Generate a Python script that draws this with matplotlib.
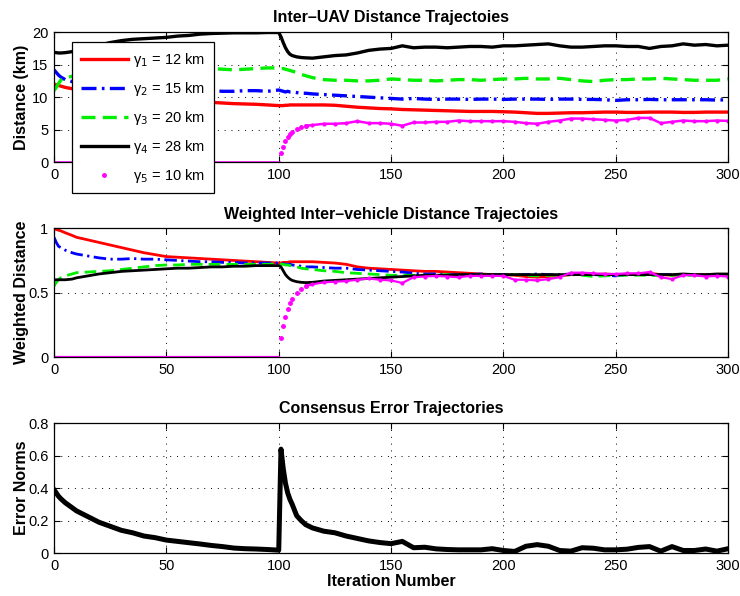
import numpy as np
import matplotlib
matplotlib.use("Agg")
import matplotlib.pyplot as plt
from matplotlib.lines import Line2D

plt.rcParams['font.family'] = ['Liberation Sans', 'DejaVu Sans']

iters = ([0, 1, 2, 3, 5, 8] + list(range(10, 101, 5))
         + [101, 102, 103, 104, 105, 106, 108, 110, 112, 115] + list(range(120, 301, 5)))

labels = ["γ$_1$ = 12 km", "γ$_2$ = 15 km", "γ$_3$ = 20 km", "γ$_4$ = 28 km", "γ$_5$ = 10 km"]

# --- inter-UAV distance (km)
dist1 = [12.0, 11.9, 11.8, 11.7, 11.5, 11.3,
         11.1, 10.8, 10.5, 10.3, 10.1, 9.9, 9.8, 9.6, 9.5, 9.4, 9.3, 9.25, 9.2, 9.1, 9.0, 8.95, 8.9, 8.8, 8.7,
         8.7, 8.7, 8.75, 8.75, 8.8, 8.8, 8.8, 8.8, 8.8, 8.8,
         8.8, 8.75, 8.6, 8.45, 8.35, 8.25, 8.2, 8.1, 8.05, 8.0, 7.95, 7.9, 7.85, 7.8, 7.8, 7.8, 7.75, 7.7, 7.6,
         7.5, 7.5, 7.55, 7.6, 7.6, 7.65, 7.7, 7.7, 7.65, 7.65, 7.7, 7.7, 7.7, 7.65, 7.65, 7.7, 7.7, 7.7]
dist2 = [14.2, 13.8, 13.4, 13.1, 12.7, 12.4,
         12.2, 12.0, 11.8, 11.7, 11.5, 11.4, 11.3, 11.2, 11.1, 11.1, 11.0, 11.0, 11.0, 10.9, 10.9, 11.0, 11.0, 10.9, 11.1,
         11.0, 10.9, 10.8, 10.9, 10.8, 10.8, 10.7, 10.6, 10.6, 10.5,
         10.4, 10.3, 10.2, 10.1, 10.0, 9.9, 9.8, 9.7, 9.8, 9.7, 9.65, 9.7, 9.7, 9.65, 9.7, 9.7, 9.65, 9.7, 9.7,
         9.7, 9.65, 9.7, 9.7, 9.65, 9.65, 9.6, 9.5, 9.6, 9.6, 9.65, 9.6, 9.6, 9.6, 9.6, 9.6, 9.55, 9.6]
dist3 = [11.0, 11.5, 12.1, 12.6, 13.0, 13.2,
         13.3, 13.5, 13.6, 13.8, 13.9, 14.0, 14.1, 14.2, 14.3, 14.3, 14.4, 14.4, 14.4, 14.3, 14.2, 14.3, 14.4, 14.5, 14.5,
         14.4, 14.4, 14.3, 14.2, 14.1, 14.0, 13.8, 13.5, 13.3, 13.0,
         12.7, 12.6, 12.6, 12.5, 12.5, 12.6, 12.8, 12.7, 12.6, 12.6, 12.5, 12.6, 12.7, 12.7, 12.6, 12.7, 12.8, 12.8, 12.9,
         12.8, 12.8, 12.9, 12.7, 12.5, 12.4, 12.6, 12.7, 12.7, 12.8, 12.8, 12.9, 12.8, 12.7, 12.6, 12.6, 12.6, 12.8]
dist4 = [16.9, 16.85, 16.8, 16.8, 16.85, 17.0,
         17.3, 17.7, 18.0, 18.4, 18.7, 18.9, 19.0, 19.1, 19.2, 19.4, 19.5, 19.7, 19.8, 19.85, 19.9, 19.9, 19.9, 19.95, 19.95,
         19.3, 18.4, 17.6, 17.0, 16.6, 16.4, 16.2, 16.1, 16.05, 16.0,
         16.2, 16.4, 16.5, 16.8, 17.2, 17.4, 17.5, 17.9, 17.6, 17.7, 17.7, 17.6, 17.7, 17.8, 17.8, 17.7, 17.9, 17.9, 18.0,
         18.1, 18.2, 17.9, 17.7, 17.7, 17.8, 17.9, 17.9, 17.8, 17.8, 17.5, 17.8, 17.9, 18.2, 18.0, 18.1, 17.9, 18.0]
dist5 = [0.0] * 25 + [
         1.4, 2.4, 3.2, 3.8, 4.4, 4.7, 5.1, 5.4, 5.6, 5.7,
         5.9, 5.9, 6.0, 6.3, 6.0, 6.0, 5.9, 5.6, 6.1, 6.1, 6.2, 6.2, 6.4, 6.3, 6.3, 6.3, 6.3, 6.2, 6.0,
         5.9, 6.2, 6.4, 6.7, 6.7, 6.6, 6.5, 6.4, 6.5, 6.8, 6.8, 6.0, 6.2, 6.4, 6.3, 6.3, 6.4, 6.35]

# --- weighted inter-vehicle distance
wdist1 = [1.0, 0.99, 0.985, 0.98, 0.965, 0.945,
          0.93, 0.91, 0.89, 0.87, 0.85, 0.83, 0.81, 0.795, 0.78, 0.775, 0.77, 0.765, 0.76, 0.755, 0.75, 0.745, 0.74, 0.735, 0.73,
          0.73, 0.735, 0.735, 0.735, 0.74, 0.74, 0.74, 0.74, 0.74, 0.74,
          0.735, 0.73, 0.72, 0.70, 0.69, 0.685, 0.68, 0.675, 0.67, 0.665, 0.665, 0.66, 0.655, 0.65, 0.645, 0.64, 0.64, 0.635, 0.625,
          0.62, 0.625, 0.63, 0.64, 0.64, 0.64, 0.645, 0.64, 0.64, 0.645, 0.65, 0.64, 0.635, 0.64, 0.64, 0.64, 0.64, 0.64]
wdist2 = [0.93, 0.89, 0.86, 0.85, 0.83, 0.81,
          0.80, 0.785, 0.77, 0.76, 0.76, 0.765, 0.76, 0.76, 0.755, 0.75, 0.745, 0.74, 0.74, 0.735, 0.735, 0.73, 0.73, 0.73, 0.73,
          0.73, 0.725, 0.72, 0.72, 0.72, 0.715, 0.71, 0.705, 0.70, 0.70,
          0.695, 0.69, 0.69, 0.68, 0.675, 0.67, 0.665, 0.66, 0.65, 0.645, 0.645, 0.64, 0.64, 0.64, 0.645, 0.64, 0.64, 0.64, 0.64,
          0.645, 0.64, 0.64, 0.645, 0.64, 0.64, 0.635, 0.63, 0.64, 0.64, 0.64, 0.64, 0.64, 0.64, 0.64, 0.64, 0.64, 0.64]
wdist3 = [0.55, 0.58, 0.60, 0.615, 0.63, 0.645,
          0.655, 0.66, 0.665, 0.67, 0.68, 0.69, 0.70, 0.71, 0.715, 0.715, 0.72, 0.72, 0.72, 0.72, 0.72, 0.72, 0.72, 0.72, 0.725,
          0.72, 0.72, 0.715, 0.715, 0.71, 0.705, 0.70, 0.69, 0.685, 0.68,
          0.67, 0.665, 0.655, 0.65, 0.645, 0.64, 0.635, 0.635, 0.635, 0.635, 0.635, 0.64, 0.635, 0.635, 0.64, 0.635, 0.635, 0.64, 0.635,
          0.63, 0.635, 0.635, 0.64, 0.635, 0.625, 0.63, 0.635, 0.635, 0.635, 0.635, 0.63, 0.635, 0.635, 0.635, 0.635, 0.635, 0.635]
wdist4 = [0.60, 0.60, 0.60, 0.60, 0.60, 0.605,
          0.615, 0.63, 0.645, 0.655, 0.665, 0.67, 0.675, 0.68, 0.685, 0.69, 0.69, 0.695, 0.70, 0.70, 0.705, 0.705, 0.71, 0.71, 0.71,
          0.70, 0.67, 0.64, 0.62, 0.605, 0.595, 0.585, 0.58, 0.578, 0.58,
          0.59, 0.595, 0.60, 0.605, 0.61, 0.615, 0.62, 0.625, 0.63, 0.635, 0.635, 0.635, 0.64, 0.64, 0.64, 0.64, 0.64, 0.64, 0.64,
          0.64, 0.64, 0.64, 0.64, 0.64, 0.64, 0.64, 0.64, 0.64, 0.64, 0.64, 0.64, 0.64, 0.645, 0.64, 0.64, 0.645, 0.645]
wdist5 = [0.0] * 25 + [
          0.15, 0.24, 0.31, 0.37, 0.42, 0.45, 0.50, 0.53, 0.55, 0.565,
          0.58, 0.585, 0.59, 0.60, 0.61, 0.60, 0.595, 0.575, 0.62, 0.625, 0.63, 0.625, 0.62, 0.63, 0.63, 0.63, 0.63, 0.60, 0.60,
          0.595, 0.605, 0.62, 0.655, 0.655, 0.65, 0.645, 0.645, 0.65, 0.65, 0.66, 0.62, 0.605, 0.635, 0.635, 0.625, 0.63, 0.625]

# --- consensus error norm
err = [0.39, 0.37, 0.35, 0.335, 0.31, 0.28,
       0.26, 0.225, 0.19, 0.165, 0.14, 0.125, 0.105, 0.095, 0.08, 0.072, 0.064, 0.056, 0.047, 0.04, 0.031, 0.027, 0.025, 0.022, 0.018,
       0.64, 0.52, 0.43, 0.37, 0.33, 0.30, 0.23, 0.20, 0.175, 0.155,
       0.135, 0.125, 0.105, 0.09, 0.075, 0.065, 0.058, 0.072, 0.033, 0.036, 0.026, 0.022, 0.02, 0.02, 0.02, 0.027, 0.016, 0.01, 0.042,
       0.052, 0.042, 0.016, 0.012, 0.033, 0.03, 0.02, 0.02, 0.024, 0.035, 0.04, 0.012, 0.04, 0.016, 0.016, 0.025, 0.012, 0.027]

x = np.array(iters)
xticks = [0, 50, 100, 150, 200, 250, 300]


def style_axes(ax, yticks, ylim):
    ax.set_xlim(0, 300)
    ax.set_ylim(*ylim)
    ax.set_xticks(xticks)
    ax.set_yticks(yticks)
    ax.tick_params(direction='in', top=True, right=True, length=4, width=0.8,
                   labelsize=10.5, pad=4)
    ax.grid(True, color='k', linestyle=(0, (1, 6)), linewidth=0.7)
    for s in ax.spines.values():
        s.set_linewidth(0.9)


def pink_series(ax, y, lw):
    y = np.array(y)
    flat = x <= 100
    jump = (x > 100) & (x <= 112)
    tail = x >= 112
    ax.plot(x[flat], y[flat], color='#ff00ff', lw=lw)
    ax.plot(x[jump], y[jump], ls='none', marker='.', ms=5, color='#ff00ff')
    ax.plot(x[tail], y[tail], color='#ff00ff', lw=lw, marker='.', ms=4)


fig = plt.figure(figsize=(7.4, 5.96), dpi=100)
ax1 = fig.add_axes([0.073, 0.728, 0.911, 0.218])
ax2 = fig.add_axes([0.073, 0.401, 0.911, 0.216])
ax3 = fig.add_axes([0.073, 0.072, 0.911, 0.218])

# top panel
lw = 2.4
ax1.plot(x, dist1, color='#ff0000', lw=lw)
ax1.plot(x, dist2, color='#0000ff', lw=lw, dashes=(4.5, 1.6, 0.8, 1.6))
ax1.plot(x, dist3, color='#00ee00', lw=lw, dashes=(4.2, 2.2))
ax1.plot(x, dist4, color='k', lw=lw)
pink_series(ax1, dist5, 1.8)
style_axes(ax1, [0, 5, 10, 15, 20], (0, 20))
# the "50" label sits under the legend box in the original
ax1.set_xticklabels(['0', '', '100', '150', '200', '250', '300'])
ax1.set_title('Inter–UAV Distance Trajectoies', fontsize=11.5, fontweight='bold', pad=7)
ax1.set_ylabel('Distance (km)', fontsize=11.5, fontweight='bold')
ax1.yaxis.set_label_coords(-0.037, 0.5)

handles = [
    Line2D([], [], color='#ff0000', lw=lw),
    Line2D([], [], color='#0000ff', lw=lw, dashes=(4.5, 1.6, 0.8, 1.6)),
    Line2D([], [], color='#00ee00', lw=lw, dashes=(4.2, 2.2)),
    Line2D([], [], color='k', lw=lw),
    Line2D([], [], color='#ff00ff', ls='none', marker='.', ms=5),
]
leg = ax1.legend(handles, labels, loc='upper left', bbox_to_anchor=(0.027, 0.923),
                 borderaxespad=0, fontsize=10.5, handlelength=3.2, handletextpad=0.4,
                 labelspacing=0.75, borderpad=0.6, fancybox=False, framealpha=1,
                 edgecolor='k')
leg.get_frame().set_linewidth(0.9)
leg.set_zorder(10)

# middle panel
lw2 = 2.0
ax2.plot(x, wdist1, color='#ff0000', lw=lw2)
ax2.plot(x, wdist2, color='#0000ff', lw=lw2, dashes=(4.5, 1.6, 0.8, 1.6))
ax2.plot(x, wdist3, color='#00ee00', lw=lw2, dashes=(4.2, 2.2))
ax2.plot(x, wdist4, color='k', lw=lw2)
pink_series(ax2, wdist5, 1.6)
style_axes(ax2, [0, 0.5, 1], (0, 1))
ax2.set_yticklabels(['0', '0.5', '1'])
ax2.set_title('Weighted Inter–vehicle Distance Trajectoies', fontsize=11.5, fontweight='bold', pad=7)
ax2.set_ylabel('Weighted Distance', fontsize=11.5, fontweight='bold')
ax2.yaxis.set_label_coords(-0.037, 0.5)

# bottom panel
ax3.plot(x, err, color='k', lw=3.6)
style_axes(ax3, [0, 0.2, 0.4, 0.6, 0.8], (0, 0.8))
ax3.set_yticklabels(['0', '0.2', '0.4', '0.6', '0.8'])
ax3.set_title('Consensus Error Trajectories', fontsize=11.5, fontweight='bold', pad=7)
ax3.set_ylabel('Error Norms', fontsize=11.5, fontweight='bold')
ax3.yaxis.set_label_coords(-0.037, 0.5)
ax3.set_xlabel('Iteration Number', fontsize=11.5, fontweight='bold', labelpad=1)

fig.savefig('out.png', dpi=100)
